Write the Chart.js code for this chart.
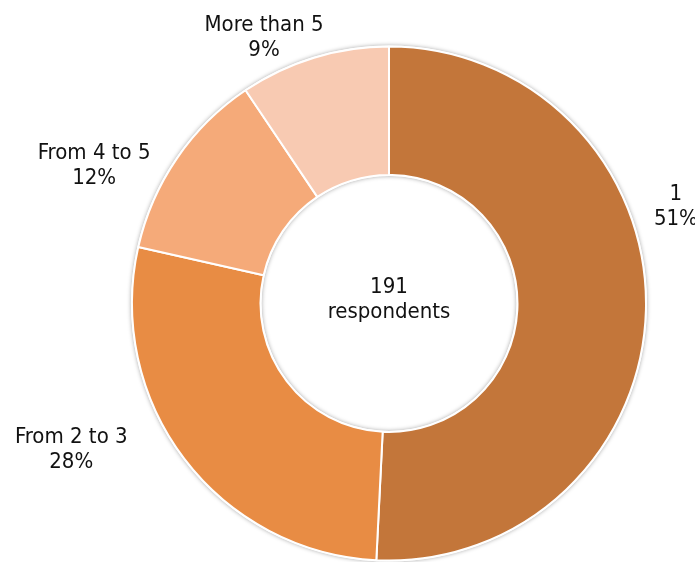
<!DOCTYPE html>
<html>
<head>
<meta charset="utf-8">
<title>Respondents</title>
<script src="https://cdn.jsdelivr.net/npm/chart.js@4/dist/chart.umd.min.js"></script>
<style>
  html, body { margin: 0; padding: 0; background: #ffffff; }
  #wrap { width: 695px; height: 562px; position: relative; }
</style>
</head>
<body>
<div id="wrap"><canvas id="chart"></canvas></div>
<script>
// answers and how many respondents gave each one
const categories = ['1', 'From 2 to 3', 'From 4 to 5', 'More than 5'];
const counts = [97, 53, 23, 18];
const percentLabels = ['51%', '28%', '12%', '9%'];
const totalLabel = ['191', 'respondents'];

const sliceColors = ['#c3763a', '#e88c44', '#f5aa79', '#f8cab2'];
const FONT = '22px "DejaVu Sans Condensed", "DejaVu Sans", sans-serif';
const LINE = 25;

// shift of each label from the point just outside its slice middle
const labelNudge = [[6, -104], [-94, -24], [-63, 21], [-43, 3]];

function _drawLines(ctx, lines, x, y) {
  const top = y - (lines.length - 1) * LINE / 2;
  lines.forEach(function (txt, i) {
    ctx.fillText(txt, x, top + i * LINE);
  });
}

// soft grey shadow round the ring, outside and inside the hole
const ringShadow = {
  id: 'ringShadow',
  beforeDatasetsDraw(chart) {
    const arc = chart.getDatasetMeta(0).data[0];
    if (!arc) return;
    const ctx = chart.ctx;
    ctx.save();
    ctx.shadowColor = 'rgba(0,0,0,0.35)';
    ctx.shadowBlur = 4;
    ctx.fillStyle = '#ffffff';
    ctx.beginPath();
    ctx.arc(arc.x, arc.y, arc.outerRadius + 1, 0, Math.PI * 2);
    ctx.arc(arc.x, arc.y, arc.innerRadius - 1, 0, Math.PI * 2, true);
    ctx.fill();
    ctx.restore();
  }
};

const labelPlugin = {
  id: 'sliceLabels',
  afterDatasetsDraw(chart) {
    const ctx = chart.ctx;
    const arcs = chart.getDatasetMeta(0).data;
    ctx.save();
    ctx.font = FONT;
    ctx.fillStyle = '#111111';
    ctx.textAlign = 'center';
    ctx.textBaseline = 'middle';
    arcs.forEach(function (arc, i) {
      const p = arc.getProps(['x', 'y', 'startAngle', 'endAngle', 'outerRadius'], true);
      const mid = (p.startAngle + p.endAngle) / 2;
      const r = p.outerRadius + 24;
      const x = p.x + Math.cos(mid) * r + labelNudge[i][0];
      const y = p.y + Math.sin(mid) * r + labelNudge[i][1];
      _drawLines(ctx, [categories[i], percentLabels[i]], x, y);
    });
    // total in the hole
    const c = arcs[0];
    _drawLines(ctx, totalLabel, c.x, c.y - 4);
    ctx.restore();
  }
};

new Chart(document.getElementById('chart'), {
  type: 'doughnut',
  data: {
    labels: categories,
    datasets: [{
      data: counts,
      backgroundColor: sliceColors,
      borderColor: '#ffffff',
      borderWidth: 2
    }]
  },
  options: {
    responsive: true,
    maintainAspectRatio: false,
    animation: false,
    cutout: '50%',
    layout: { padding: { left: 130, right: 47, top: 45.5, bottom: 0.5 } },
    plugins: {
      legend: { display: false },
      tooltip: { enabled: false }
    }
  },
  plugins: [ringShadow, labelPlugin]
});
</script>
</body>
</html>
